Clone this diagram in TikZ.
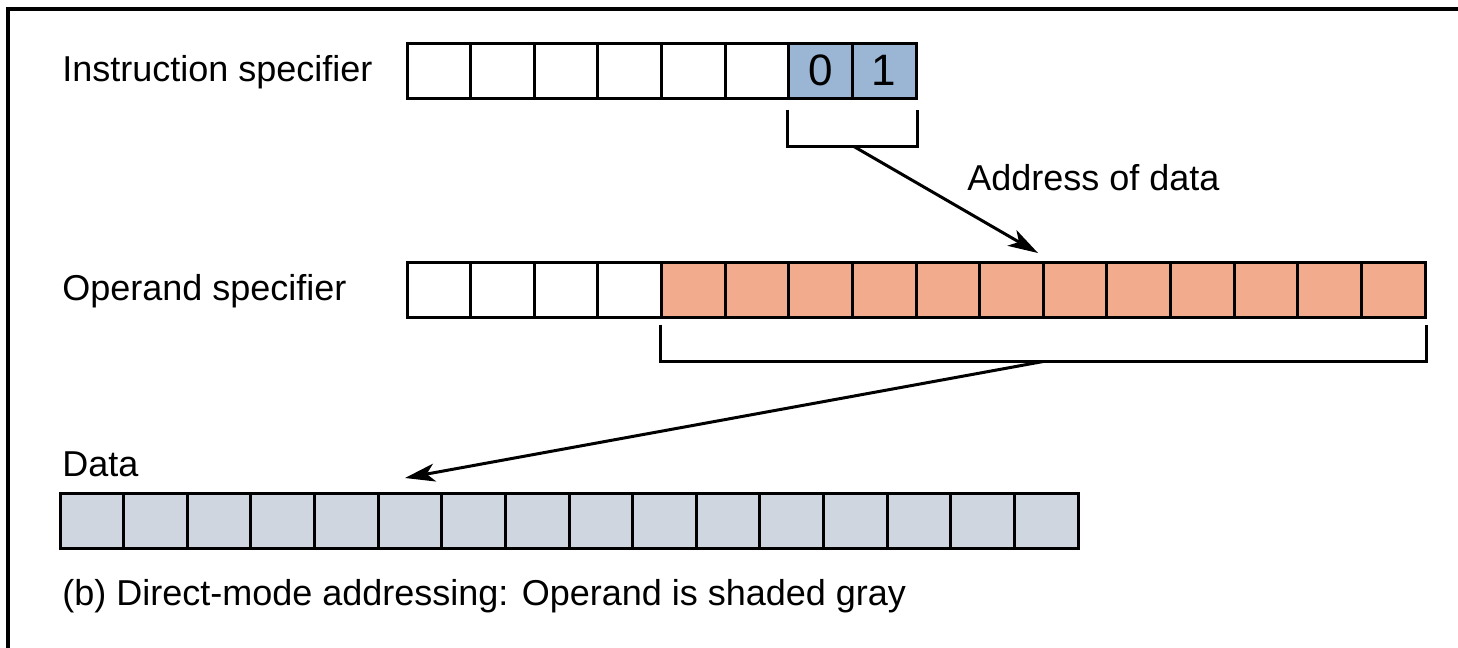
\documentclass[tikz,border=0pt]{standalone}
\usepackage{fontspec}
\setmainfont{Liberation Sans}
\usetikzlibrary{arrows.meta,calc}
\definecolor{cellblue}{RGB}{155,181,212}
\definecolor{salmon}{RGB}{242,172,141}
\definecolor{datagray}{RGB}{207,214,223}
\begin{document}
\begin{tikzpicture}[x=0.5pt,y=-0.5pt,
  cell/.style={draw, line width=1.5pt, minimum width=31.81pt, minimum height=27.5pt, inner sep=0pt, fill=white},
  lbl/.style={anchor=base west, inner sep=0pt, font=\fontsize{18}{21}\selectfont},
  digit/.style={font=\fontsize{22}{24}\selectfont},
  brk/.style={line width=1.5pt},
  arr/.style={line width=1.5pt, -{Stealth[length=15pt,width=9pt,inset=4pt]}}]
\useasboundingbox (0,0) rectangle (1458,648);
\draw[line width=1.6pt] (8,648) -- (8,9) -- (1458,9);

% Instruction specifier
\node[lbl] (tI) at (62,82) {Instruction specifier};
\foreach \i in {1,...,6} \node[cell] (I\i) at ({407+(\i-0.5)*63.625},70.5) {};
\node[cell,fill=cellblue,digit] (I7) at ({407+6.5*63.625},70.5) {0};
\node[cell,fill=cellblue,digit] (I8) at ({407+7.5*63.625},70.5) {1};
\draw[brk] ($(I7.south west)+(0,10)$) -- ($(I7.south west)+(0,47)$) -- ($(I8.south east)+(0,47)$) -- ($(I8.south east)+(0,10)$);
\coordinate (a1s) at ($(I7.south east)+(0,47)$);
\coordinate (a1e) at (1038,253);
\draw[arr] (a1s) -- (a1e);
\node[lbl] (tA) at (967,190) {Address of data};

% Operand specifier
\node[lbl] (tO) at (62,300) {Operand specifier};
\foreach \i in {1,...,4} \node[cell] (O\i) at ({407+(\i-0.5)*63.625},289.5) {};
\foreach \i in {5,...,16} \node[cell,fill=salmon] (O\i) at ({407+(\i-0.5)*63.625},289.5) {};
\draw[brk] ($(O5.south west)+(0,6)$) -- ($(O5.south west)+(0,43)$) -- ($(O16.south east)+(0,43)$) -- ($(O16.south east)+(0,6)$);
\coordinate (a2s) at ($(O5.south west)!0.5!(O16.south east)+(0,43)$);
\coordinate (a2e) at (405,478);
\draw[arr] (a2s) -- (a2e);

% Data
\node[lbl] (tD) at (62,476) {Data};
\foreach \i in {1,...,16} \node[cell,fill=datagray] (D\i) at ({60+(\i-0.5)*63.625},520.5) {};

\node[lbl] (cap) at (62,605) {(b) Direct-mode addressing: Operand is shaded gray};
\end{tikzpicture}
\end{document}
